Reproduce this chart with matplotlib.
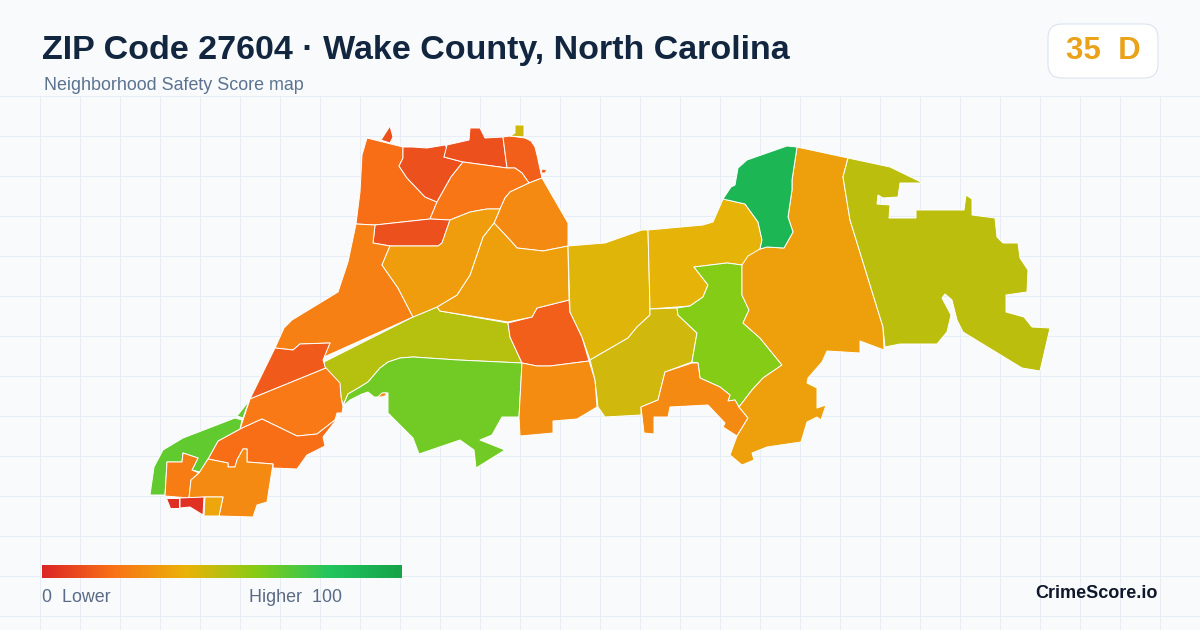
# plot.py
# Neighborhood score map for ZIP 27604
import numpy as np
import matplotlib
matplotlib.use("Agg")
import matplotlib.pyplot as plt
from matplotlib.collections import PolyCollection
from matplotlib.colors import LinearSegmentedColormap, Normalize
from matplotlib.patches import FancyBboxPatch

# --- 1) Data: tract outlines (map units) and their scores ---
nw_main = [(367,138),(403,147),(403,158),(399,166),(407,178),(425,197),(437,202),(430,219),(375,225),(356,224),(360,192),(362,155)]
nw_spike = [(381,140),(390,126),(393,137),(390,143)]
nw_dark = [(403,147),(412,147),(427,148),(445,145),(447,148),(444,157),(463,162),(451,177),(437,202),(425,197),(407,178),(399,166),(403,158)]
north_dark = [(447,145),(469,140),(470,128),(480,128),(485,138),(503,137),(507,168),(463,162),(444,157)]
north_east = [(503,137),(510,136),(525,138),(531,141),(535,147),(537,155),(542,178),(529,183),(522,173),(515,168),(507,168)]
north_tab = [(515,125),(524,125),(524,137),(510,136),(515,133)]
north_dot = [(542,169),(547,170),(545,173),(541,173)]
north_mid = [(463,162),(507,168),(515,168),(522,173),(529,183),(510,192),(505,198),(500,209),(487,209),(470,212),(450,220),(430,219),(437,202),(451,177)]
north_right = [(542,178),(568,223),(568,246),(543,251),(517,248),(510,240),(494,223),(500,209),(505,198),(510,192),(529,183)]
strip = [(375,225),(430,219),(450,220),(442,243),(438,246),(390,246),(373,243)]
west = [(356,224),(375,225),(373,243),(390,246),(382,265),(398,288),(413,317),(324,357),(330,343),(300,344),(293,350),(275,348),(284,328),(292,320),(338,292),(348,262)]
west_patch = [(275,348),(293,350),(300,344),(330,343),(323,360),(326,368),(250,399)]
band = [(324,362),(413,317),(437,307),(440,311),(508,323),(510,337),(522,363),(458,360),(413,357),(400,358),(388,362),(380,368),(368,382),(360,387),(348,394),(343,405),(341,397),(340,385),(325,367)]
lake = [(343,406),(348,394),(360,387),(368,382),(380,368),(388,362),(400,358),(413,357),(458,360),(522,363),(519,417),(502,417),(492,435),(480,440),(505,450),(476,468),(474,450),(460,440),(419,454),(413,438),(388,413),(388,393),(383,393),(379,397),(374,397),(368,392),(362,394),(350,400)]
lake_sliver = [(378,397),(382,393),(387,393),(385,396),(381,397)]
center_block = [(508,323),(532,317),(537,308),(569,300),(570,312),(582,337),(589,361),(550,366),(537,366),(522,363),(510,337)]
south_block = [(522,363),(537,366),(550,366),(589,361),(595,380),(597,407),(577,419),(553,421),(553,433),(520,436),(519,417)]
center_east = [(494,223),(510,240),(517,248),(543,251),(568,246),(569,300),(537,308),(532,317),(508,322),(440,311),(437,307),(457,295),(470,275),(483,237)]
center_west = [(390,246),(438,246),(442,243),(450,220),(470,212),(487,209),(500,209),(494,223),(483,237),(470,275),(457,295),(437,307),(413,317),(398,288),(382,265)]
yellow_west = [(568,246),(592,244),(605,243),(642,230),(648,230),(650,308),(650,315),(637,327),(628,338),(590,360),(582,337),(570,312)]
yellow_east = [(648,230),(703,225),(713,222),(723,199),(745,204),(758,222),(762,240),(760,249),(742,265),(727,263),(694,267),(708,285),(703,297),(690,306),(650,309)]
olive_south = [(650,309),(677,308),(678,315),(697,333),(694,350),(692,362),(665,372),(658,400),(641,407),(641,415),(605,417),(598,407),(595,380),(590,360),(628,338),(637,327),(650,315)]
lime = [(694,267),(727,263),(742,265),(742,295),(749,310),(743,323),(760,338),(782,365),(763,378),(752,390),(739,407),(735,400),(728,401),(730,395),(720,387),(700,378),(698,363),(692,362),(694,350),(697,333),(678,315),(677,308),(690,306),(703,297),(708,285)]
south_arm = [(665,372),(692,363),(698,363),(700,378),(720,387),(730,395),(728,401),(735,400),(739,407),(748,418),(737,436),(723,427),(725,423),(708,405),(670,407),(668,417),(654,417),(654,434),(644,433),(641,407),(658,400)]
east_big = [(797,147),(848,158),(843,177),(850,220),(883,327),(884,350),(860,341),(860,353),(827,351),(822,362),(808,378),(807,383),(817,388),(817,408),(826,405),(821,420),(817,417),(807,422),(801,442),(767,447),(752,453),(754,460),(742,465),(730,455),(737,436),(748,418),(739,407),(752,390),(763,378),(782,365),(760,338),(743,323),(749,310),(742,295),(742,265),(748,256),(760,249),(767,247),(784,248),(793,232),(788,217),(792,190),(792,180)]
north_green = [(797,147),(787,146),(747,160),(738,168),(735,185),(731,187),(723,199),(745,204),(758,222),(762,240),(760,249),(767,247),(784,248),(793,232),(788,217),(792,190),(792,180)]
far_east = [(848,158),(890,167),(923,183),(900,183),(898,197),(883,198),(878,195),(877,204),(890,205),(889,218),(916,218),(916,210),(964,210),(966,195),(972,199),(972,215),(995,218),(997,237),(1003,243),(1018,243),(1020,258),(1028,270),(1027,292),(1006,295),(1006,312),(1024,317),(1032,327),(1050,328),(1040,371),(1022,368),(963,332),(957,320),(952,300),(945,294),(942,298),(951,315),(947,332),(937,344),(900,344),(885,347),(883,327),(850,220),(843,177)]
sw_upper = [(250,399),(326,368),(340,383),(341,397),(343,407),(342,413),(337,413),(335,420),(317,434),(297,436),(262,419),(240,429)]
sw_lower = [(262,419),(297,436),(317,434),(335,420),(340,415),(323,437),(325,446),(307,455),(297,469),(273,468),(273,464),(247,462),(247,449),(243,449),(237,460),(235,467),(228,467),(228,463),(208,459),(218,441),(240,429)]
sw_green = [(218,441),(208,459),(200,472),(192,470),(198,458),(183,453),(182,462),(167,462),(165,495),(150,495),(154,467),(163,450),(183,438),(235,418),(242,420),(240,429)]
sw_green_bit = [(237,416),(249,401),(243,418)]
sw_small = [(167,462),(182,462),(183,453),(198,458),(192,470),(199,473),(191,480),(189,498),(165,496)]
sw_big = [(208,459),(228,463),(228,467),(235,467),(237,460),(243,449),(247,449),(247,462),(273,464),(267,502),(257,505),(253,517),(219,516),(223,497),(205,497),(189,498),(191,480),(199,473)]
red_left = [(166,498),(179,498),(179,508),(170,508)]
red_right = [(180,498),(204,497),(203,515),(190,507),(180,508)]
yellow_bit = [(205,497),(223,497),(219,516),(204,516)]

tracts = [nw_main, nw_spike, nw_dark, north_dark, north_east, north_tab, north_dot,
          north_mid, north_right, strip, west, west_patch, band, lake, lake_sliver,
          center_block, south_block, center_east, center_west, yellow_west, yellow_east,
          olive_south, lime, south_arm, east_big, north_green, far_east, sw_upper,
          sw_lower, sw_green, sw_green_bit, sw_small, sw_big, red_left, red_right, yellow_bit]
scores = [19, 11, 11, 11, 15, 45, 15,
          21, 27, 11, 24, 14, 50, 64, 27,
          15, 28, 34, 33, 42, 41,
          45, 60, 27, 34, 89, 49, 22,
          19, 67, 67, 23, 27, 2, 3, 36]

legend_stops = [0, 20, 40, 60, 80, 100]
legend_colors = ["#dc2626", "#f97316", "#eab308", "#84cc16", "#22c55e", "#16a34a"]

title = "ZIP Code 27604 · Wake County, North Carolina"
subtitle = "Neighborhood Safety Score map"
badge_text = "35  D"
brand = "CrimeScore.io"

# --- 2) Figure: one axes over the whole canvas, y pointing down ---
plt.rcParams["font.family"] = ["Liberation Sans", "DejaVu Sans"]
fig = plt.figure(figsize=(12, 6.3), dpi=100, facecolor="#f8fafc")
ax = fig.add_axes([0, 0, 1, 1])
ax.set_xlim(0, 1200)
ax.set_ylim(630, 0)
ax.axis("off")

# background grid below the header
grid_v = ax.vlines(np.arange(40.5, 1200, 40), 96, 630, color="#e6edf4", lw=0.72, zorder=1)
grid_h = ax.hlines(np.arange(96.5, 630, 40), 0, 1200, color="#e6edf4", lw=0.72, zorder=1)
grid_v.set_snap(False)
grid_h.set_snap(False)

# --- 3) Map ---
cmap = LinearSegmentedColormap.from_list(
    "score", [(s / 100, c) for s, c in zip(legend_stops, legend_colors)])
norm = Normalize(0, 100)
polys = PolyCollection([np.array(t) for t in tracts], array=np.array(scores, dtype=float),
                       cmap=cmap, norm=norm, edgecolors="#ffffff", linewidths=0.7,
                       joinstyle="round", zorder=2)
ax.add_collection(polys)

# --- 4) Header and badge ---
ax.text(42, 50, title, fontsize=24.5, fontweight="bold", color="#12263f", va="center", zorder=4)
ax.text(44, 86, subtitle, fontsize=12.9, color="#5b7391", va="center", zorder=4)
badge = FancyBboxPatch((1062, 38), 82, 26, boxstyle="round,pad=0,rounding_size=0", zorder=3,
                       facecolor="#ffffff", edgecolor="#dde4ee", lw=0.8)
badge.set_boxstyle("round,pad=14,rounding_size=14")
ax.add_patch(badge)
ax.text(1103, 51, badge_text, fontsize=22.5, fontweight="bold", color="#eaa21a",
        ha="center", va="center", zorder=4)

# --- 5) Legend bar and footer ---
gradient = np.linspace(0, 100, 360).reshape(1, -1)
ax.imshow(gradient, cmap=cmap, norm=norm, extent=[42, 402, 578, 565], aspect="auto", zorder=3)
ax.set_xlim(0, 1200)
ax.set_ylim(630, 0)
ax.text(42, 597.5, "0  Lower", fontsize=12.9, color="#5b6b85", va="center", zorder=4)
ax.text(249, 597.5, "Higher  100", fontsize=12.9, color="#5b6b85", va="center", zorder=4)
ax.text(1158, 594, brand, fontsize=13, fontweight="bold", color="#0f172a",
        ha="right", va="center", zorder=4)

fig.savefig("out.png", dpi=100, facecolor=fig.get_facecolor())
